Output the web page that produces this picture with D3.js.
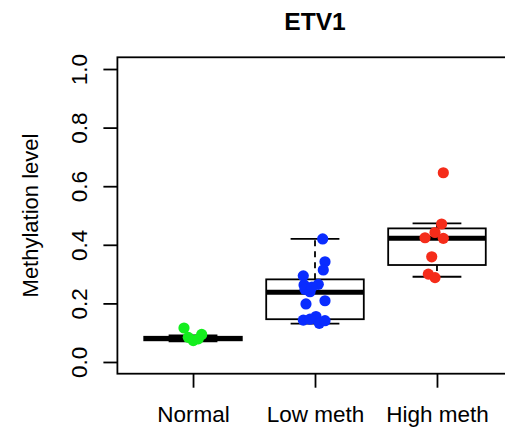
<!DOCTYPE html>
<html>
<head>
<meta charset="utf-8">
<script src="https://cdn.jsdelivr.net/npm/d3@7"></script>
<style>
  body { margin: 0; background: #fff; }
  svg { display: block; font-family: "Liberation Sans", Arial, sans-serif; }
</style>
</head>
<body>
<div id="chart"></div>
<script>
// groups and colours
var groups = ["Normal", "Low meth", "High meth"];
var colors = ["#14ee1e", "#0a2cff", "#f52c1a"];

// box stats: lower whisker, q1, median, q3, upper whisker
var normalBox = [0.070, 0.074, 0.080, 0.086, 0.091];
var lowBox = [0.131, 0.146, 0.238, 0.282, 0.420];
var highBox = [0.291, 0.331, 0.422, 0.456, 0.473];

// points (methylation) and their jitter
var normalVals = [0.116, 0.084, 0.073, 0.079, 0.094];
var normalJit = [-0.074, -0.039, 0.002, 0.043, 0.071];

var lowVals = [0.420, 0.342, 0.314, 0.294, 0.265, 0.263, 0.248, 0.240, 0.256, 0.198, 0.209, 0.143, 0.146, 0.155, 0.132, 0.141];
var lowJit = [0.063, 0.082, 0.068, -0.096, 0.027, -0.09, -0.082, -0.041, -0.025, -0.074, 0.082, -0.096, -0.041, 0.008, 0.035, 0.082];

var highVals = [0.646, 0.471, 0.442, 0.424, 0.422, 0.359, 0.300, 0.288];
var highJit = [0.052, 0.038, -0.016, -0.098, 0.052, -0.043, -0.071, -0.016];

var yTicks = [0, 0.2, 0.4, 0.6, 0.8, 1.0];

var boxes = [normalBox, lowBox, highBox];
var vals = [normalVals, lowVals, highVals];
var jits = [normalJit, lowJit, highJit];

var width = 505, height = 433;

var svg = d3.select("#chart").append("svg")
  .attr("width", width)
  .attr("height", height);

// R style: x from 0.5..3.5, 4% padding each side
var x = d3.scaleLinear().domain([0.38, 3.62]).range([117.4, 512.6]);
var y = d3.scaleLinear().domain([-0.04, 1.04]).range([373.7, 57.3]);

var boxW = 0.4; // half width in group units

// boxplots
boxes.forEach(function(b, i){
  var g = svg.append("g");
  var cx = i + 1;
  // whiskers
  g.append("line")
    .attr("x1", x(cx)).attr("x2", x(cx))
    .attr("y1", y(b[3])).attr("y2", y(b[4]))
    .attr("stroke", "#000").attr("stroke-width", 1.8)
    .attr("stroke-dasharray", "6,5");
  g.append("line")
    .attr("x1", x(cx)).attr("x2", x(cx))
    .attr("y1", y(b[1])).attr("y2", y(b[0]))
    .attr("stroke", "#000").attr("stroke-width", 1.8)
    .attr("stroke-dasharray", "6,5");
  // caps
  [b[0], b[4]].forEach(function(v){
    g.append("line")
      .attr("x1", x(cx - boxW / 2)).attr("x2", x(cx + boxW / 2))
      .attr("y1", y(v)).attr("y2", y(v))
      .attr("stroke", "#000").attr("stroke-width", 1.8);
  });
  // box
  g.append("rect")
    .attr("x", x(cx - boxW))
    .attr("width", x(cx + boxW) - x(cx - boxW))
    .attr("y", y(b[3]))
    .attr("height", y(b[1]) - y(b[3]))
    .attr("fill", "#fff")
    .attr("stroke", "#000").attr("stroke-width", 1.8);
  // median
  g.append("line")
    .attr("x1", x(cx - boxW)).attr("x2", x(cx + boxW))
    .attr("y1", y(b[2])).attr("y2", y(b[2]))
    .attr("stroke", "#000").attr("stroke-width", 5);
});

// jittered points
vals.forEach(function(v, i){
  svg.append("g").selectAll("circle")
    .data(v)
    .enter()
    .append("circle")
    .attr("cx", function(d, j){ return x(i + 1 + jits[i][j]); })
    .attr("cy", function(d){ return y(d); })
    .attr("r", 5.6)
    .style("fill", colors[i]);
});

// frame
svg.append("rect")
  .attr("x", x(0.38)).attr("y", y(1.04))
  .attr("width", x(3.62) - x(0.38))
  .attr("height", y(-0.04) - y(1.04))
  .attr("fill", "none")
  .attr("stroke", "#000").attr("stroke-width", 1.8);

// y axis
var yAxis = svg.append("g")
  .attr("transform", "translate(" + x(0.38) + ",0)")
  .call(d3.axisLeft(y).tickValues(yTicks).tickSize(14).tickSizeOuter(0)
    .tickFormat(d3.format(".1f")));
yAxis.select(".domain").remove();
yAxis.selectAll("line").attr("stroke", "#000").attr("stroke-width", 1.8);
yAxis.selectAll("text")
  .attr("transform", "rotate(-90)")
  .attr("x", 0).attr("y", -30.4).attr("dy", null)
  .attr("text-anchor", "middle")
  .attr("fill", "#000")
  .style("font-size", "22.5px");

// x axis
var xAxis = svg.append("g")
  .attr("transform", "translate(0," + y(-0.04) + ")")
  .call(d3.axisBottom(x).tickValues([1, 2, 3]).tickSize(14).tickSizeOuter(0)
    .tickFormat(function(d){ return groups[d - 1]; }));
xAxis.select(".domain").remove();
xAxis.selectAll("line").attr("stroke", "#000").attr("stroke-width", 1.8);
xAxis.selectAll("text")
  .attr("y", 48).attr("dy", null)
  .attr("fill", "#000")
  .style("font-size", "22.5px");

// y label
svg.append("text")
  .attr("transform", "translate(38," + ((y(1.04) + y(-0.04)) / 2) + ") rotate(-90)")
  .attr("text-anchor", "middle")
  .style("font-size", "22px")
  .text("Methylation level");

// title
svg.append("text")
  .attr("x", (x(0.38) + x(3.62)) / 2)
  .attr("y", 30)
  .attr("text-anchor", "middle")
  .style("font-size", "24.6px")
  .style("font-weight", "bold")
  .text("ETV1");
</script>
</body>
</html>
